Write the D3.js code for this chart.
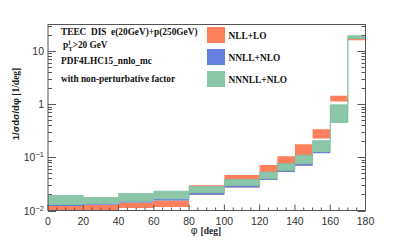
<!DOCTYPE html>
<html>
<head>
<meta charset="utf-8">
<script src="https://cdn.jsdelivr.net/npm/d3@7"></script>
<style>
  body { margin: 0; background: #fff; }
  svg { display: block; }
  .serif { font-family: "Liberation Serif", "Times New Roman", serif; font-weight: bold; white-space: pre; }
  .sans { font-family: "Liberation Sans", Arial, sans-serif; }
</style>
</head>
<body>
<svg id="chart" width="407" height="241"></svg>
<script>
// bin edges in degrees
var binEdges = [0, 20, 40, 60, 80, 100, 120, 130, 140, 150, 160, 170, 180];

// uncertainty bands, [low, high] per bin
var nllLO = [
  [0.0090, 0.0122], [0.0090, 0.0128], [0.0111, 0.0141], [0.0117, 0.0154],
  [0.0196, 0.0300], [0.0272, 0.0464], [0.0373, 0.0716], [0.0528, 0.1045],
  [0.0697, 0.176], [0.225, 0.338], [1.12, 1.435], [15.9, 17.0]
];
var nnllNLO = [
  [0.0122, 0.0130], [0.0128, 0.0135], [0.0141, 0.0150], [0.0154, 0.0166],
  [0.0198, 0.0216], [0.0272, 0.0296], [0.0373, 0.0396], [0.0528, 0.0568],
  [0.0697, 0.0760], [0.119, 0.128], [0.47, 0.90], [17.2, 19.0]
];
var nnnllNLO = [
  [0.0130, 0.0192], [0.0135, 0.0176], [0.0150, 0.0209], [0.0166, 0.0231],
  [0.0216, 0.0284], [0.0296, 0.0384], [0.0396, 0.0528], [0.0568, 0.0760],
  [0.0760, 0.110], [0.128, 0.206], [0.452, 0.97], [17.1, 19.4]
];

var seriesNames = ['NLL+LO', 'NNLL+NLO', 'NNNLL+NLO'];
var seriesColors = ['#fe7f5c', '#6680e0', '#8bc6a9'];

var xTicks = [0, 20, 40, 60, 80, 100, 120, 140, 160, 180];
var yTickExps = [-2, -1, 0, 1];

var infoLines = ['TEEC  DIS  e(20GeV)+p(250GeV)', 'p_T^j>20 GeV', 'PDF4LHC15_nnlo_mc', 'with non-perturbative factor'];

var svg = d3.select('#chart');
var frame = { left: 48, right: 365.5, top: 24.5, bottom: 210.5 };

var x = d3.scaleLinear().domain([0, 180]).range([frame.left, frame.right]);
var y = d3.scaleLog().domain([0.01, 31.5]).range([frame.bottom, frame.top]);

var plot = svg.append('g');
svg.append('clipPath').attr('id', 'clip').append('rect')
  .attr('x', frame.left).attr('y', frame.top)
  .attr('width', frame.right - frame.left).attr('height', frame.bottom - frame.top);
plot.attr('clip-path', 'url(#clip)');

// turn a band into step points, repeating the last bin at 180
function stepPoints(band) {
  var pts = band.map(function (d, i) { return { x: binEdges[i], lo: d[0], hi: d[1] }; });
  var last = band[band.length - 1];
  pts.push({ x: binEdges[binEdges.length - 1], lo: last[0], hi: last[1] });
  return pts;
}

var area = d3.area()
  .curve(d3.curveStepAfter)
  .x(function (d) { return x(d.x); })
  .y0(function (d) { return y(d.lo); })
  .y1(function (d) { return y(d.hi); });

[nllLO, nnllNLO, nnnllNLO].forEach(function (band, i) {
  plot.append('path')
    .datum(stepPoints(band))
    .attr('d', area)
    .attr('fill', seriesColors[i])
    .attr('stroke', i === 2 ? '#7dbfa2' : 'none')
    .attr('stroke-width', 0.8);
});

// frame
svg.append('rect')
  .attr('x', frame.left).attr('y', frame.top)
  .attr('width', frame.right - frame.left).attr('height', frame.bottom - frame.top)
  .attr('fill', 'none').attr('stroke', '#555').attr('stroke-width', 1);

var ticks = svg.append('g').attr('stroke', '#555').attr('stroke-width', 1);

// x ticks: major every 20, minor every 5
d3.range(0, 181, 5).forEach(function (v) {
  var len = v % 20 === 0 ? 6 : 3;
  ticks.append('line')
    .attr('x1', x(v)).attr('x2', x(v))
    .attr('y1', frame.bottom).attr('y2', frame.bottom - len);
});

// y ticks on both sides (log)
var yTickVals = [];
for (var e = -2; e <= 1; e++) {
  for (var m = 1; m <= 9; m++) {
    var v = m * Math.pow(10, e);
    if (v <= 31.5) yTickVals.push({ v: v, major: m === 1 });
  }
}
yTickVals.forEach(function (t) {
  var len = t.major ? 8 : 4;
  var yy = Math.round(y(t.v)) + 0.5;
  ticks.append('line').attr('x1', frame.left).attr('x2', frame.left + len).attr('y1', yy).attr('y2', yy);
  ticks.append('line').attr('x1', frame.right).attr('x2', frame.right - len).attr('y1', yy).attr('y2', yy);
});

// tick labels
svg.append('g').selectAll('text').data(xTicks).enter().append('text')
  .attr('class', 'sans')
  .attr('x', function (d) { return x(d); })
  .attr('y', frame.bottom + 14)
  .attr('text-anchor', 'middle')
  .attr('font-size', 10.5)
  .attr('fill', '#333')
  .text(function (d) { return d; });

yTickExps.forEach(function (ex) {
  var t = svg.append('text')
    .attr('class', 'sans')
    .attr('x', frame.left - 4)
    .attr('y', y(Math.pow(10, ex)) + 4)
    .attr('text-anchor', 'end')
    .attr('font-size', 10.5)
    .attr('fill', '#333');
  if (ex === 0) t.text('1');
  else if (ex === 1) t.text('10');
  else {
    t.append('tspan').text('10');
    t.append('tspan').attr('font-size', 7.5).attr('dy', -4).text('\u2212' + (-ex));
  }
});

// axis titles
svg.append('text')
  .attr('x', 206).attr('y', 234)
  .attr('text-anchor', 'middle')
  .attr('font-size', 9.5)
  .attr('fill', '#222')
  .call(function (t) {
    t.append('tspan').attr('class', 'sans').attr('font-size', 10.5).text('\u03c6 ');
    t.append('tspan').attr('class', 'serif').text('[deg]');
  });

svg.append('text')
  .attr('transform', 'translate(19,104) rotate(-90)')
  .attr('text-anchor', 'middle')
  .attr('font-size', 9.5)
  .attr('fill', '#222')
  .call(function (t) {
    t.append('tspan').attr('class', 'sans').attr('font-weight', 'bold').text('1/\u03c3d\u03c3/d\u03c6  ');
    t.append('tspan').attr('class', 'serif').text('[1/deg]');
  });

// info text
var info = svg.append('g').attr('class', 'serif').attr('font-size', 9.3).attr('fill', '#111');
info.append('text').attr('x', 61).attr('y', 35).attr('xml:space', 'preserve').text(infoLines[0]);
info.append('text').attr('x', 63).attr('y', 48).call(function (t) {
  t.append('tspan').text('p');
  t.append('tspan').attr('font-size', 6).attr('dy', -3.8).text('j');
  t.append('tspan').attr('font-size', 6).attr('dx', -1.6).attr('dy', 7).text('T');
  t.append('tspan').attr('dy', -3.2).text('>20 GeV');
});
info.append('text').attr('x', 61).attr('y', 64).text(infoLines[2]);
info.append('text').attr('x', 61).attr('y', 82).text(infoLines[3]);

// legend
var legend = svg.append('g');
seriesNames.forEach(function (name, i) {
  var ly = 27 + i * 22;
  legend.append('rect')
    .attr('x', 207).attr('y', ly).attr('width', 18).attr('height', 16)
    .attr('fill', seriesColors[i]);
  legend.append('text')
    .attr('class', 'serif')
    .attr('x', 228.5).attr('y', ly + 11.5)
    .attr('font-size', 9.4)
    .attr('fill', '#111')
    .text(name);
});
</script>
</body>
</html>
